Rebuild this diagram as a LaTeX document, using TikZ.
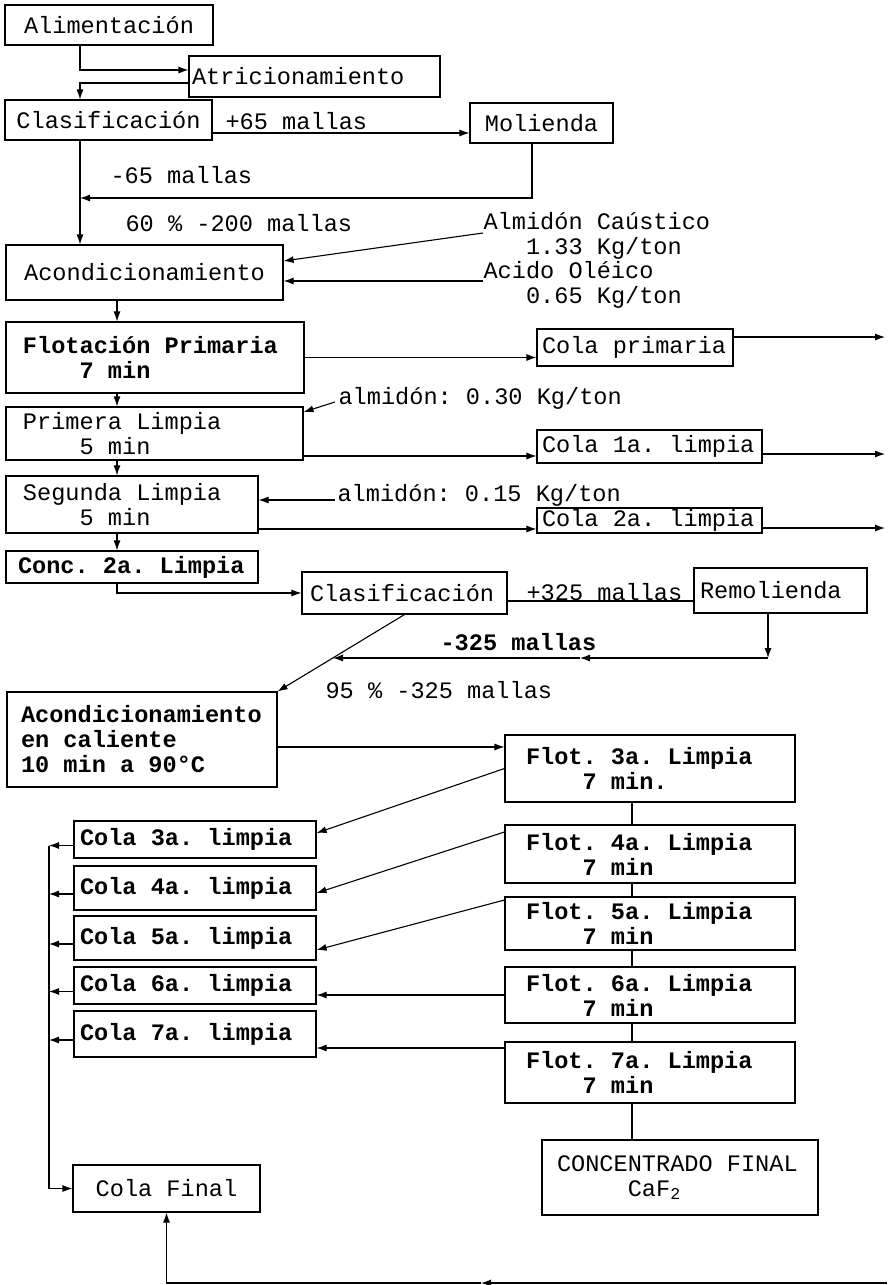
\documentclass[tikz,border=0pt]{standalone}
\usepackage{fontspec}
\setmonofont[WordSpace={1,0,0}]{Liberation Mono}
\usetikzlibrary{arrows.meta}
\newcommand{\tw}{\fontsize{23.6}{25}\selectfont\ttfamily}
\begin{document}
\begin{tikzpicture}
[x=1pt, y=-1pt, line width=1.1pt, >={Latex[length=10pt, width=7pt]}, font=\tw]
\tikzstyle{box}=[draw, inner ysep=0pt, inner xsep=4pt]
\tikzstyle{boxl}=[box, align=left, execute at begin node={\spaceskip=0pt\xspaceskip=0pt\frenchspacing}]
\tikzstyle{heavy}=[font=\tw\bfseries]
\tikzstyle{lbl}=[inner sep=0pt, anchor=west, align=left]
\useasboundingbox (0,0) rectangle (887,1285);

\coordinate (busA) at (80,0);
\coordinate (busB) at (117,0);
\coordinate (busC) at (632,0);
\coordinate (busD) at (49,0);

\node[box]	(alim)	at (109,25)	[minimum width=208pt, minimum height=40pt]	{Alimentación};
\node[boxl]	(atric)	at (314.5,76.5)	[inner xsep=3pt, text width=245pt, minimum height=41pt]	{Atricionamiento};
\node[box]	(clas1)	at (108.5,120)	[minimum width=207pt, minimum height=40pt]	{Clasificación};
\node[box]	(molienda)	at (541.5,123)	[minimum width=143pt, minimum height=40pt]	{Molienda};
\node[box]	(acond)	at (144.5,272.5)	[minimum width=277pt, minimum height=55pt]	{Acondicionamiento};
\node[boxl, heavy]	(flotprim)	at (155,357.5)	[inner xsep=17pt, text width=264pt, minimum height=71pt]	{Flotación Primaria\\\phantom{xxxx}7 min};
\node[boxl]	(primera)	at (154.5,433.5)	[inner xsep=17pt, text width=263pt, minimum height=53pt]	{Primera Limpia\\\phantom{xxxx}5 min};
\node[boxl]	(segunda)	at (132,504.5)	[inner xsep=17pt, text width=218pt, minimum height=57pt]	{Segunda Limpia\\\phantom{xxxx}5 min};
\node[boxl, heavy]	(conc)	at (132,567)	[inner xsep=12pt, text width=228pt, minimum height=32pt]	{Conc. 2a. Limpia};

\node[boxl]	(cprim)	at (635,347.5)	[inner xsep=5pt, text width=186pt, minimum height=37pt]	{Cola primaria};
\node[boxl]	(c1a)	at (649.5,446.5)	[inner xsep=5pt, text width=215pt, minimum height=33pt]	{Cola 1a. limpia};
\node[boxl]	(c2a)	at (649.5,520.5)	[inner xsep=5pt, text width=215pt, minimum height=25pt]	{Cola 2a. limpia};

\node[boxl]	(clas2)	at (404.5,593)	[inner xsep=8pt, text width=189pt, minimum height=42pt]	{Clasificación};
\node[boxl]	(remol)	at (780.5,590.5)	[inner xsep=6pt, text width=161pt, minimum height=45pt]	{Remolienda};
\node[boxl, heavy]	(acal)	at (142,739.5)	[inner xsep=14pt, text width=242pt, minimum height=95pt]	{Acondicionamiento\\en caliente\\10 min a 90°C};

\node[boxl, heavy]	(flot3)	at (650,768.5)	[inner xsep=21pt, text width=248pt, minimum height=67pt]	{Flot. 3a. Limpia\\\phantom{xxxx}7 min.};
\node[boxl, heavy]	(flot4)	at (650,854)	[inner xsep=21pt, text width=248pt, minimum height=58pt]	{Flot. 4a. Limpia\\\phantom{xxxx}7 min};
\node[boxl, heavy]	(flot5)	at (650,923.5)	[inner xsep=21pt, text width=248pt, minimum height=53pt]	{Flot. 5a. Limpia\\\phantom{xxxx}7 min};
\node[boxl, heavy]	(flot6)	at (650,995)	[inner xsep=21pt, text width=248pt, minimum height=56pt]	{Flot. 6a. Limpia\\\phantom{xxxx}7 min};
\node[boxl, heavy]	(flot7)	at (650,1072.5)	[inner xsep=21pt, text width=248pt, minimum height=61pt]	{Flot. 7a. Limpia\\\phantom{xxxx}7 min};
\node[boxl]	(cfin)	at (680,1177.5)	[inner xsep=15pt, text width=246pt, minimum height=75pt]	{CONCENTRADO FINAL\\\phantom{xxxxx}CaF\textsubscript{2}};

\node[boxl, heavy]	(c3a)	at (195,839.5)	[inner xsep=6pt, text width=230pt, minimum height=37pt]	{Cola 3a. limpia};
\node[boxl, heavy]	(c4a)	at (195,888)	[inner xsep=6pt, text width=230pt, minimum height=44pt]	{Cola 4a. limpia};
\node[boxl, heavy]	(c5a)	at (195,938)	[inner xsep=6pt, text width=230pt, minimum height=44pt]	{Cola 5a. limpia};
\node[boxl, heavy]	(c6a)	at (195,985.5)	[inner xsep=6pt, text width=230pt, minimum height=37pt]	{Cola 6a. limpia};
\node[boxl, heavy]	(c7a)	at (195,1034)	[inner xsep=6pt, text width=230pt, minimum height=46pt]	{Cola 7a. limpia};
\node[box]	(colafin)	at (166.5,1188.5)	[minimum width=187pt, minimum height=47pt]	{Cola Final};

\node[lbl]	(m65p)	at (225,121)	{+65 mallas};
\node[lbl]	(m65m)	at (110,175)	{-65 mallas};
\node[lbl]	(p200)	at (125,223)	{60 \% -200 mallas};
\node[lbl]	(almcaus)	at (483,235.5)	{Almidón Caústico\\\phantom{xxx}1.33 Kg/ton};
\node[lbl]	(acido)	at (483,285)	{Acido Oléico\\\phantom{xxx}0.65 Kg/ton};
\node[lbl]	(lalm30)	at (338,398)	{almidón: 0.30 Kg/ton};
\node[lbl]	(lalm15)	at (337,495)	{almidón: 0.15 Kg/ton};
\node[lbl]	(m325p)	at (526,592)	{+325 mallas};
\node[lbl, heavy]	(m325m)	at (440,642)	{-325 mallas};
\node[lbl]	(p325)	at (325,690)	{95 \% -325 mallas};

\coordinate (almin) at (483,233);
\coordinate (acidin) at (483,281);
\coordinate (ret65) at (80,198);
\coordinate (alm30) at (335,402);
\coordinate (alm15) at (335,500);
\coordinate (outA) at (885,337);
\coordinate (outB) at (885,454);
\coordinate (outC) at (885,528);
\coordinate (rc) at (768,658);
\coordinate (rm) at (580,658);
\coordinate (rj) at (333,658);
\coordinate (outD) at (887,1283);
\coordinate (botm) at (481,1283);

\draw [->] (alim.south -| busA) |- ([yshift=6.5pt]atric.west);
\draw [->] ([yshift=-6.5pt]atric.west) -| (clas1.north -| busA);
\draw [->] ([yshift=-13pt]clas1.east) -- ([yshift=-13pt]clas1.east -| molienda.west);
\draw [->] ([xshift=-9.5pt]molienda.south) |- (ret65);
\draw [->] (clas1.south -| busA) -- (acond.north -| busA);
\draw [->] (almin) -- ([yshift=11.5pt]acond.east);
\draw [->] (acidin) -- (acond.east |- acidin);

\draw [->] (acond.south -| busB) -- (flotprim.north -| busB);
\draw [->] (flotprim.south -| busB) -- (primera.north -| busB);
\draw [->] (primera.south -| busB) -- (segunda.north -| busB);
\draw [->] (segunda.south -| busB) -- (conc.north -| busB);

\draw [->] (flotprim.east) -- (flotprim.east -| cprim.west);
\draw [->] (alm30) -- ([yshift=21.5pt]primera.east);
\draw [->] ([yshift=-22.5pt]primera.east) -- ([yshift=-22.5pt]primera.east -| c1a.west);
\draw [->] (alm15) -- (segunda.east |- alm15);
\draw [->] ([yshift=-24.5pt]segunda.east) -- ([yshift=-24.5pt]segunda.east -| c2a.west);
\draw [->] (cprim.east |- outA) -- (outA);
\draw [->] (c1a.east |- outB) -- (outB);
\draw [->] (c2a.east |- outC) -- (outC);

\draw [->] (conc.south -| busB) |- (clas2.west);
\draw ([yshift=-8pt]clas2.east) -- ([yshift=-8pt]clas2.east -| remol.west);
\draw [->] (remol.south -| rc) -- (rc);
\draw [->] (rc) -- (rm);
\draw [->] (rm) -- (rj);
\draw [->] (clas2.south) -- (acal.north east);
\draw [->] ([yshift=-7.5pt]acal.east) -- ([yshift=-7.5pt]acal.east -| flot3.west);

\draw (flot3.south -| busC) -- (flot4.north -| busC);
\draw (flot4.south -| busC) -- (flot5.north -| busC);
\draw (flot5.south -| busC) -- (flot6.north -| busC);
\draw (flot6.south -| busC) -- (flot7.north -| busC);
\draw (flot7.south -| busC) -- (cfin.north -| busC);

\draw [->] (flot3.west) -- ([yshift=6.5pt]c3a.east);
\draw [->] ([yshift=22pt]flot4.west) -- ([yshift=-5pt]c4a.east);
\draw [->] ([yshift=23.5pt]flot5.west) -- ([yshift=-12pt]c5a.east);
\draw [->] (flot6.west) -- (flot6.west -| c6a.east);
\draw [->] ([yshift=24.5pt]flot7.west) -- ([yshift=24.5pt]flot7.west -| c7a.east);

\foreach \c in {c3a,c4a,c5a,c6a,c7a}
	\draw [->] ([yshift=-6pt]\c.west) -- ([yshift=-6pt]\c.west -| busD);
\draw [->] ([yshift=-6pt]c3a.west -| busD) |- (colafin.west);

\draw [->] (outD) -- (botm);
\draw [->] (botm) -| (colafin.south);

\end{tikzpicture}
\end{document}
